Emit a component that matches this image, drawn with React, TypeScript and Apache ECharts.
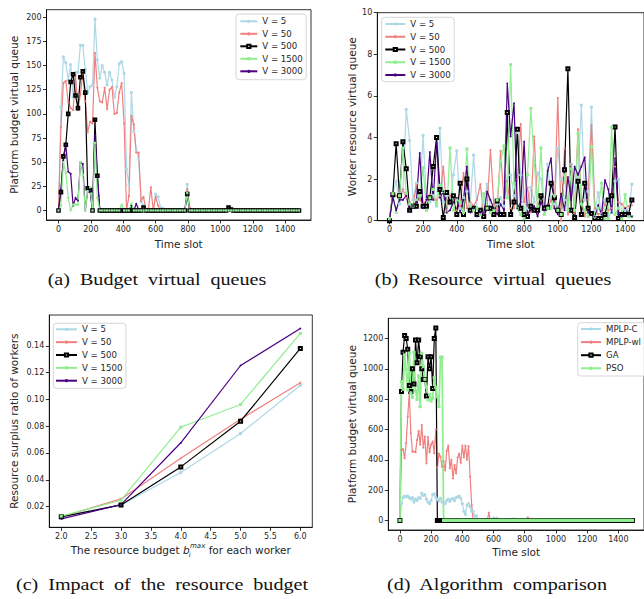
import React, { useEffect, useRef } from 'react';
import * as echarts from 'echarts';

// ---------- time slots ----------
const TA = [
  0, 15, 30, 45, 60, 75, 90, 105, 120, 135,
  150, 165, 180, 195, 210, 225, 240, 255, 270, 285,
  300, 315, 330, 345, 360, 375, 390, 405, 420, 435,
  450, 465, 480, 495, 510, 525, 540, 555, 570, 585,
  600, 615, 630, 645, 660, 675, 690, 705, 720, 735,
  750, 765, 780, 795, 810, 825, 840, 855, 870, 885,
  900, 915, 930, 945, 960, 975, 990, 1005, 1020, 1035,
  1050, 1065, 1080, 1095, 1110, 1125, 1140, 1155, 1170, 1185,
  1200, 1215, 1230, 1245, 1260, 1275, 1290, 1305, 1320, 1335,
  1350, 1365, 1380, 1395, 1410, 1425, 1440, 1455, 1470, 1485,
];
const TB = [
  0, 20, 40, 60, 80, 100, 120, 140, 160, 180,
  200, 220, 240, 260, 280, 300, 320, 340, 360, 380,
  400, 420, 440, 460, 480, 500, 520, 540, 560, 580,
  600, 620, 640, 660, 680, 700, 720, 740, 760, 780,
  800, 820, 840, 860, 880, 900, 920, 940, 960, 980,
  1000, 1020, 1040, 1060, 1080, 1100, 1120, 1140, 1160, 1180,
  1200, 1220, 1240, 1260, 1280, 1300, 1320, 1340, 1360, 1380,
  1400, 1420, 1440,
];
const TD = [
  0, 10, 20, 30, 40, 50, 60, 70, 80, 90,
  100, 110, 120, 130, 140, 150, 160, 170, 180, 190,
  200, 210, 220, 230, 240, 250, 260, 270, 280, 290,
  300, 310, 320, 330, 340, 350, 360, 370, 380, 390,
  400, 410, 420, 430, 440, 450, 460, 470, 480, 490,
  500, 510, 520, 530, 540, 550, 560, 570, 580, 590,
  600, 610, 620, 630, 640, 650, 660, 670, 680, 690,
  700, 710, 720, 730, 740, 750, 760, 770, 780, 790,
  800, 810, 820, 830, 840, 850, 860, 870, 880, 890,
  900, 910, 920, 930, 940, 950, 960, 970, 980, 990,
  1000, 1010, 1020, 1030, 1040, 1050, 1060, 1070, 1080, 1090,
  1100, 1110, 1120, 1130, 1140, 1150, 1160, 1170, 1180, 1190,
  1200, 1210, 1220, 1230, 1240, 1250, 1260, 1270, 1280, 1290,
  1300, 1310, 1320, 1330, 1340, 1350, 1360, 1370, 1380, 1390,
  1400, 1410, 1420, 1430, 1440, 1450, 1460, 1470, 1480, 1490,
];

// ---------- (a) budget virtual queues ----------
const A_V5 = [
  0, 107, 159, 153, 135, 151, 117, 143, 143, 171,
  171, 146, 122, 128, 130, 198, 156, 137, 150, 143,
  130, 143, 135, 117, 128, 152, 154, 142, 43, 27,
  122, 82, 63, 53, 9, 5, 0, 0, 0, 0,
  17, 14, 3, 2, 0, 0, 0, 0, 0, 0,
  0, 0, 0, 27, 0, 0, 0, 0, 0, 0,
  0, 0, 0, 0, 0, 0, 0, 0, 0, 0,
  0, 0, 0, 0, 0, 0, 0, 0, 0, 0,
  0, 0, 0, 0, 0, 0, 0, 0, 0, 0,
  0, 0, 0, 0, 0, 0, 0, 0, 0, 0,
];
const A_V50 = [
  0, 86, 132, 134, 112, 106, 104, 140, 104, 120,
  142, 113, 81, 92, 90, 163, 127, 113, 112, 127,
  105, 125, 128, 100, 101, 122, 132, 90, 0, 15,
  98, 89, 60, 60, 10, 14, 0, 0, 24, 0,
  14, 5, 0, 0, 0, 0, 0, 0, 0, 0,
  0, 0, 0, 22, 3, 0, 0, 0, 0, 0,
  0, 0, 0, 0, 0, 0, 0, 0, 0, 0,
  0, 0, 0, 0, 0, 0, 0, 0, 0, 0,
  0, 0, 0, 0, 0, 0, 0, 0, 0, 0,
  0, 0, 0, 0, 0, 0, 0, 0, 0, 0,
];
const A_V500 = [
  0, 19, 56, 68, 100, 133, 141, 119, 106, 138,
  144, 122, 23, 21, 0, 94, 36, 0, 0, 0,
  0, 0, 0, 0, 0, 0, 0, 0, 0, 0,
  0, 0, 0, 0, 0, 3, 0, 0, 0, 0,
  0, 0, 0, 0, 0, 0, 0, 0, 0, 0,
  0, 0, 0, 17, 0, 0, 0, 0, 0, 0,
  0, 0, 0, 0, 0, 0, 0, 0, 0, 0,
  3, 1, 0, 0, 0, 0, 0, 0, 0, 0,
  0, 0, 0, 0, 0, 0, 0, 0, 0, 0,
  0, 0, 0, 0, 0, 0, 0, 0, 0, 0,
];
const A_V1500 = [
  0, 5, 50, 39, 13, 0, 6, 6, 6, 50,
  37, 0, 20, 24, 0, 70, 13, 0, 0, 0,
  0, 0, 0, 0, 0, 0, 6, 0, 0, 0,
  7, 0, 0, 0, 0, 0, 0, 0, 0, 0,
  0, 0, 0, 0, 0, 0, 0, 0, 0, 0,
  0, 0, 0, 18, 0, 0, 0, 0, 0, 0,
  0, 0, 0, 0, 0, 0, 0, 0, 0, 0,
  0, 0, 0, 0, 0, 0, 0, 0, 0, 0,
  0, 0, 0, 0, 0, 0, 0, 0, 0, 0,
  0, 0, 0, 0, 0, 0, 0, 0, 0, 0,
];
const A_V3000 = [
  0, 22, 52, 68, 40, 38, 5, 13, 10, 50,
  48, 0, 20, 20, 0, 78, 35, 0, 0, 0,
  0, 0, 0, 0, 0, 0, 0, 0, 0, 0,
  5, 0, 7, 1, 0, 2, 0, 0, 0, 0,
  0, 0, 0, 0, 0, 0, 0, 0, 0, 0,
  0, 0, 0, 16, 0, 0, 0, 0, 0, 0,
  0, 0, 0, 0, 0, 0, 0, 0, 0, 0,
  0, 0, 0, 0, 0, 0, 0, 0, 0, 0,
  0, 0, 0, 0, 0, 0, 0, 0, 0, 0,
  0, 0, 0, 0, 0, 0, 0, 0, 0, 0,
];

// ---------- (b) resource virtual queues ----------
const B_V5 = [
  0.1, 1.3, 1.9, 0.8, 1.5, 5.35, 3.85, 1.0, 1.8, 1.2,
  4.1, 1.0, 0.9, 1.2, 0.7, 4.45, 0.9, 1.2, 0.8, 2.2,
  3.35, 0.6, 1.1, 1.4, 0.8, 3.15, 0.6, 0.4, 0.9, 1.75,
  0.6, 0.5, 0.8, 1.1, 0.7, 2.0, 2.2, 1.2, 4.25, 2.2,
  0.3, 0.6, 1.6, 0.9, 2.3, 2.0, 0.5, 2.7, 1.1, 0.8,
  3.5, 2.0, 1.0, 0.6, 2.7, 1.5, 2.1, 5.55, 1.0, 1.4,
  5.45, 0.5, 1.35, 0.3, 1.0, 0.2, 0.4, 1.9, 2.0, 0.3,
  0.5, 0.3, 1.75,
];
const B_V50 = [
  0.1, 1.3, 1.2, 1.1, 1.5, 1.1, 0.9, 0.7, 1.7, 1.0,
  0.8, 1.0, 1.25, 1.1, 1.0, 1.2, 2.6, 0.5, 1.2, 1.2,
  0.5, 0.7, 2.3, 0.6, 0.9, 0.7, 1.0, 1.75, 0.3, 0.6,
  3.4, 0.8, 0.5, 3.35, 1.0, 1.9, 0.6, 0.6, 2.0, 4.65,
  0.9, 1.6, 0.4, 4.05, 0.6, 1.2, 0.5, 0.6, 1.0, 0.6,
  5.9, 0.0, 3.45, 0.3, 2.7, 0.4, 4.4, 1.0, 0.2, 1.0,
  4.6, 0.6, 0.3, 0.4, 0.8, 0.5, 0.6, 2.6, 0.9, 0.8,
  0.6, 0.7, 0.75,
];
const B_V500 = [
  0, 1.25, 3.7, 1.2, 3.8, 2.5, 0.5, 0.7, 0.7, 1.4,
  0.7, 0.7, 1.1, 2.6, 4.0, 1.5, 0.15, 1.35, 0.9, 1.2,
  0.3, 1.8, 0.3, 2.0, 0.5, 0.6, 0.3, 0.5, 0.2, 0.6,
  0.6, 0.3, 0.95, 0.3, 0.3, 5.2, 0.3, 0.9, 4.4, 0.6,
  0.3, 0.2, 0.7, 0.5, 0.5, 1.2, 0.6, 0.65, 1.8, 1.1,
  0.5, 0.3, 2.45, 7.3, 0.5, 0.15, 1.9, 0.3, 1.8, 0.6,
  0.35, 0.1, 0.1, 0.1, 0.3, 1.0, 1.2, 4.5, 0.1, 0.3,
  0.3, 0.3, 1.0,
];
const B_V1500 = [
  0.1, 1.3, 0.4, 1.2, 3.5, 1.3, 0.8, 0.7, 1.0, 1.2,
  2.55, 0.5, 1.1, 1.5, 0.8, 1.7, 1.4, 0.4, 3.5, 0.5,
  1.0, 0.9, 0.4, 3.45, 0.7, 0.5, 0.6, 0.3, 1.3, 0.6,
  0.4, 0.5, 1.0, 2.85, 3.6, 1.1, 7.5, 1.8, 0.6, 0.3,
  0.1, 2.2, 5.4, 2.8, 0.7, 3.5, 0.3, 0.6, 0.6, 1.2,
  0.5, 0.3, 2.2, 0.5, 2.5, 0.5, 4.2, 0.8, 0.5, 0.2,
  3.55, 0.2, 0.6, 1.8, 0.1, 0.1, 4.5, 0.3, 0.6, 0.1,
  1.25, 0.2, 0.2,
];
const B_V3000 = [
  0, 1.15, 0.5, 1.0, 1.0, 1.2, 0.45, 0.7, 0.9, 3.25,
  0.6, 1.0, 3.3, 1.0, 3.75, 1.1, 1.4, 0.4, 0.5, 0.9,
  1.1, 0.4, 1.0, 2.6, 0.4, 0.6, 0.2, 0.4, 0.3, 1.4,
  1.0, 0.6, 0.3, 0.8, 0.5, 6.6, 4.05, 5.65, 0.6, 0.9,
  3.8, 0.3, 0.5, 0.7, 0.2, 0.9, 0.5, 2.4, 3.0, 0.6,
  0.3, 1.3, 0.5, 2.1, 1.0, 2.6, 2.2, 2.6, 3.05, 0.4,
  0.3, 0.2, 0.75, 0.3, 1.95, 1.5, 0.4, 3.0, 0.3, 0.2,
  0.6, 0.3, 0.2,
];

// ---------- (c) impact of the resource budget ----------
const C_BUDGET = [2, 3, 4, 5, 6];
const C_V5 = [0.0128, 0.0212, 0.0454, 0.0745, 0.1106];
const C_V50 = [0.0123, 0.0257, 0.0561, 0.0852, 0.1124];
const C_V500 = [0.0123, 0.0212, 0.0496, 0.0837, 0.138];
const C_V1500 = [0.0128, 0.0247, 0.0792, 0.0962, 0.1492];
const C_V3000 = [0.0108, 0.0214, 0.0676, 0.1253, 0.1529];

// ---------- (d) algorithm comparison ----------
const D_MPLPC = [
  0, 110, 150, 160, 155, 160, 150, 140, 150, 120,
  140, 130, 150, 145, 180, 165, 170, 140, 120, 110,
  130, 170, 175, 150, 140, 130, 145, 120, 115, 110,
  130, 140, 125, 140, 145, 130, 150, 155, 160, 145,
  110, 60, 40, 100, 110, 90, 60, 60, 30, 30,
  5, 0, 0, 0, 0, 0, 0, 0, 0, 0,
  15, 10, 15, 0, 0, 0, 0, 0, 0, 0,
  0, 0, 0, 10, 0, 0, 0, 0, 0, 0,
  0, 0, 0, 0, 0, 0, 0, 0, 0, 0,
  0, 0, 0, 0, 0, 0, 0, 0, 0, 0,
  0, 0, 0, 0, 0, 0, 0, 0, 0, 0,
  0, 0, 0, 0, 0, 0, 0, 0, 0, 0,
  0, 0, 0, 0, 0, 0, 0, 0, 0, 0,
  0, 0, 0, 0, 0, 0, 0, 0, 0, 0,
  0, 0, 0, 0, 0, 0, 0, 0, 0, 0,
];
const D_MPLPWL = [
  0, 465, 470, 410, 510, 685, 840, 575, 454, 454,
  450, 530, 590, 500, 630, 480, 553, 376, 550, 450,
  500, 520, 443, 600, 350, 440, 420, 354, 390, 330,
  460, 493, 343, 400, 277, 365, 310, 416, 440, 380,
  493, 416, 493, 400, 490, 288, 100, 0, 0, 0,
  0, 0, 0, 0, 0, 0, 0, 50, 0, 0,
  10, 0, 0, 0, 0, 0, 0, 0, 0, 0,
  0, 0, 0, 0, 0, 0, 0, 0, 0, 0,
  0, 0, 20, 0, 0, 0, 0, 0, 0, 0,
  0, 0, 0, 0, 0, 0, 0, 0, 0, 0,
  0, 0, 0, 0, 0, 0, 0, 0, 0, 0,
  0, 0, 0, 0, 0, 0, 0, 0, 0, 0,
  0, 0, 0, 0, 0, 0, 0, 0, 0, 0,
  0, 0, 0, 0, 0, 0, 0, 0, 0, 0,
  0, 0, 0, 0, 0, 0, 0, 0, 0, 0,
];
const D_GA = [
  0, 850, 1110, 1220, 1200, 1130, 890, 850, 1000, 900,
  1190, 1040, 1190, 1080, 1000, 930, 930, 820, 1080, 1000,
  1080, 870, 1200, 1270, 0, 0, 0, 0, 0, 0,
  0, 0, 0, 0, 0, 0, 0, 0, 0, 0,
  0, 0, 0, 0, 0, 0, 0, 0, 0, 0,
  0, 0, 0, 0, 0, 0, 0, 0, 0, 0,
  0, 0, 0, 0, 0, 0, 0, 0, 0, 0,
  0, 0, 0, 0, 0, 0, 0, 0, 0, 0,
  0, 0, 0, 0, 0, 0, 0, 0, 0, 0,
  0, 0, 0, 0, 0, 0, 0, 0, 0, 0,
  0, 0, 0, 0, 0, 0, 0, 0, 0, 0,
  0, 0, 0, 0, 0, 0, 0, 0, 0, 0,
  0, 0, 0, 0, 0, 0, 0, 0, 0, 0,
  0, 0, 0, 0, 0, 0, 0, 0, 0, 0,
  0, 0, 0, 0, 0, 0, 0, 0, 0, 0,
];
const D_PSO = [
  0, 916, 865, 1092, 997, 861, 1103, 840, 812, 1110,
  856, 799, 953, 751, 1103, 1015, 931, 880, 795, 830,
  788, 806, 942, 876, 817, 751, 1077, 1077, 0, 0,
  0, 0, 0, 0, 0, 0, 0, 0, 0, 0,
  0, 0, 0, 0, 0, 0, 0, 0, 0, 0,
  0, 0, 0, 0, 0, 0, 0, 0, 0, 0,
  0, 0, 0, 0, 0, 0, 0, 0, 0, 0,
  0, 0, 0, 0, 0, 0, 0, 0, 0, 0,
  0, 0, 0, 0, 0, 0, 0, 0, 0, 0,
  0, 0, 0, 0, 0, 0, 0, 0, 0, 0,
  0, 0, 0, 0, 0, 0, 0, 0, 0, 0,
  0, 0, 0, 0, 0, 0, 0, 0, 0, 0,
  0, 0, 0, 0, 0, 0, 0, 0, 0, 0,
  0, 0, 0, 0, 0, 0, 0, 0, 0, 0,
  0, 0, 0, 0, 0, 0, 0, 0, 0, 0,
];

// ---------- names & ticks ----------
const V_NAMES = ['V = 5', 'V = 50', 'V = 500', 'V = 1500', 'V = 3000'];
const D_NAMES = ['MPLP-C', 'MPLP-wl', 'GA', 'PSO'];
const TICKS_TIME = [0, 200, 400, 600, 800, 1000, 1200, 1400];
const TICKS_A_Y = [0, 25, 50, 75, 100, 125, 150, 175, 200];
const TICKS_B_Y = [0, 2, 4, 6, 8, 10];
const TICKS_C_X = [2.0, 2.5, 3.0, 3.5, 4.0, 4.5, 5.0, 5.5, 6.0];
const TICKS_C_Y = [0.02, 0.04, 0.06, 0.08, 0.1, 0.12, 0.14];
const TICKS_D_Y = [0, 200, 400, 600, 800, 1000, 1200];
const CAPTIONS = [
  '(a) Budget virtual queues',
  '(b) Resource virtual queues',
  '(c) Impact of the resource budget',
  '(d) Algorithm comparison',
];

const FONT = "'DejaVu Sans', Verdana, sans-serif";
const TXT = '#262626';

type St = { color: string; symbol: string; size: number; width?: number };
const STYLES: Record<string, St> = {
  'V = 5': { color: '#add8e6', symbol: 'circle', size: 3.4 },
  'V = 50': { color: '#f08080', symbol: 'circle', size: 2.2 },
  'V = 500': { color: '#000000', symbol: 'emptyRect', size: 3 },
  'V = 1500': { color: '#90ee90', symbol: 'rect', size: 3 },
  'V = 3000': { color: '#4b0082', symbol: 'circle', size: 1.8 },
  'MPLP-C': { color: '#add8e6', symbol: 'circle', size: 3.2 },
  'MPLP-wl': { color: '#f08080', symbol: 'circle', size: 2.2 },
  GA: { color: '#000000', symbol: 'emptyRect', size: 3 },
  PSO: { color: '#90ee90', symbol: 'rect', size: 3.2, width: 1.8 },
};

function mkSeries(name: string, gi: number, xs: number[], ys: number[], sizeOverride?: number) {
  const st = STYLES[name];
  const empty = st.symbol.indexOf('empty') === 0;
  return {
    type: 'line',
    name,
    xAxisIndex: gi,
    yAxisIndex: gi,
    data: xs.map((x, i) => [x, ys[i]]),
    symbol: st.symbol,
    symbolSize: sizeOverride ?? st.size,
    showSymbol: true,
    clip: true,
    lineStyle: { color: st.color, width: st.width ?? 1.2 },
    itemStyle: { color: st.color, borderColor: st.color, borderWidth: empty ? 0.9 : 0 },
    emphasis: { disabled: true },
    silent: true,
  };
}

function axis(gi: number, min: number, max: number, ticks: number[], fmt: (v: number) => string, name: any, nameGap: number, extraName?: any) {
  return {
    type: 'value',
    gridIndex: gi,
    min,
    max,
    name,
    nameLocation: 'middle',
    nameGap,
    nameTextStyle: { fontSize: 10.5, color: TXT, fontFamily: FONT, ...(extraName || {}) },
    axisLine: { show: true, onZero: false, lineStyle: { color: '#000', width: 0.8 } },
    axisTick: { show: true, inside: false, length: 3.5, lineStyle: { color: '#000', width: 0.8 }, customValues: ticks },
    axisLabel: { show: true, customValues: ticks, fontSize: 8, color: TXT, fontFamily: FONT, margin: 5, formatter: (v: number) => fmt(v) },
    splitLine: { show: false },
  };
}

function legend(data: string[], left: number, top: number, itemWidth: number, gap: number, padding: number[]) {
  return {
    data,
    orient: 'vertical',
    left,
    top,
    itemWidth,
    itemHeight: 4,
    itemGap: gap,
    padding,
    backgroundColor: 'rgba(255,255,255,0.85)',
    borderColor: '#cccccc',
    borderWidth: 0.8,
    borderRadius: 3,
    selectedMode: false,
    textStyle: { fontSize: 8.6, color: TXT, fontFamily: FONT, lineHeight: 10 },
  };
}

const str = (v: number) => String(v);

export default function App() {
  const ref = useRef<HTMLDivElement>(null);
  useEffect(() => {
    if (!ref.current) return;
    const chart = echarts.init(ref.current, undefined, { renderer: 'svg' });
    const gridBase = { show: true, borderColor: '#000', borderWidth: 0.8, backgroundColor: 'transparent' };
    const aVals: Record<string, number[]> = { 'V = 5': A_V5, 'V = 50': A_V50, 'V = 500': A_V500, 'V = 1500': A_V1500, 'V = 3000': A_V3000 };
    const bVals: Record<string, number[]> = { 'V = 5': B_V5, 'V = 50': B_V50, 'V = 500': B_V500, 'V = 1500': B_V1500, 'V = 3000': B_V3000 };
    const cVals: Record<string, number[]> = { 'V = 5': C_V5, 'V = 50': C_V50, 'V = 500': C_V500, 'V = 1500': C_V1500, 'V = 3000': C_V3000 };
    const dVals: Record<string, number[]> = { 'MPLP-C': D_MPLPC, 'MPLP-wl': D_MPLPWL, GA: D_GA, PSO: D_PSO };
    const aOrder = ['V = 5', 'V = 50', 'V = 500', 'V = 3000', 'V = 1500'];
    const aSizes: Record<string, number> = { 'V = 5': 3.2, 'V = 50': 2.2, 'V = 500': 2.6, 'V = 1500': 2.2, 'V = 3000': 1.8 };

    const option: any = {
      animation: false,
      backgroundColor: '#ffffff',
      grid: [
        { ...gridBase, left: 46.5, top: 9.7, width: 264.5, height: 210.3 },
        { ...gridBase, left: 377.3, top: 12.7, width: 274, height: 208 },
        { ...gridBase, left: 49.3, top: 315, width: 263, height: 212.3 },
        { ...gridBase, left: 388.3, top: 318.3, width: 266, height: 211.7 },
      ],
      xAxis: [
        axis(0, -74.25, 1559.25, TICKS_TIME, str, 'Time slot', 18),
        axis(1, -72, 1512, TICKS_TIME, str, 'Time slot', 17.5),
        axis(2, 1.8, 6.2, TICKS_C_X, (v) => v.toFixed(1),
          '{n|The resource budget }{b|b}{sub|i}{sup|max}{n| for each worker}', 15, {
            rich: {
              n: { fontSize: 10.5, color: TXT, fontFamily: FONT, lineHeight: 16 },
              b: { fontSize: 10.5, color: TXT, fontFamily: FONT, fontStyle: 'italic', lineHeight: 16 },
              sub: { fontSize: 7, color: TXT, fontFamily: FONT, fontStyle: 'italic', verticalAlign: 'bottom', lineHeight: 9, width: 0.5 },
              sup: { fontSize: 7, color: TXT, fontFamily: FONT, fontStyle: 'italic', verticalAlign: 'top', lineHeight: 9 },
            },
          }),
        axis(3, -74.5, 1564.5, TICKS_TIME, str, 'Time slot', 16.5),
      ],
      yAxis: [
        axis(0, -9.9, 207.9, TICKS_A_Y, str, 'Platform budget virtual queue', 27),
        axis(1, 0, 10, TICKS_B_Y, str, 'Worker resource virtual queue', 20),
        axis(2, 0.0045, 0.163, TICKS_C_Y, (v) => v.toFixed(2), 'Resource surplus ratio of workers', 30),
        axis(3, -63.5, 1333.5, TICKS_D_Y, str, 'Platform budget virtual queue', 31),
      ],
      legend: [
        legend(V_NAMES, 236, 14, 17, 2.5, [2.3, 3.5, 3.4, 3.3]),
        legend(V_NAMES, 381.7, 17.3, 20, 2.75, [1.7, 3.5, 1.7, 2.6]),
        legend(V_NAMES, 53.3, 323.3, 21, 2.85, [1, 3.5, 2.6, 1.7]),
        legend(D_NAMES, 577.7, 322.7, 20, 3.1, [1.3, 8, 2.7, 2.3]),
      ],
      series: [
        ...V_NAMES.map((n) => mkSeries(n, 1, TB, bVals[n])),
        ...aOrder.map((n) => mkSeries(n, 0, TA, aVals[n], aSizes[n])),
        ...V_NAMES.map((n) => mkSeries(n, 2, C_BUDGET, cVals[n])),
        ...D_NAMES.map((n) => mkSeries(n, 3, TD, dVals[n])),
      ],
    };
    chart.setOption(option);
    return () => chart.dispose();
  }, []);

  const capStyle = (cx: number, top: number): React.CSSProperties => ({
    position: 'absolute',
    left: cx - 200,
    top,
    width: 400,
    textAlign: 'center',
    fontFamily: "'Liberation Serif', 'Times New Roman', Times, serif",
    fontSize: 16.5,
    lineHeight: '17px',
    wordSpacing: '4px',
    transform: 'scaleX(1.22)',
    transformOrigin: '50% 50%',
    color: '#111',
    whiteSpace: 'nowrap',
  });

  return (
    <div style={{ position: 'fixed', left: 0, top: 0, width: 644, height: 599, background: '#fff', overflow: 'hidden' }}>
      <div ref={ref} style={{ position: 'absolute', left: 0, top: 0, width: 644, height: 599 }} />
      <div style={capStyle(157, 270.5)}>{CAPTIONS[0]}</div>
      <div style={capStyle(493, 270.5)}>{CAPTIONS[1]}</div>
      <div style={capStyle(161.5, 576)}>{CAPTIONS[2]}</div>
      <div style={capStyle(496.5, 576)}>{CAPTIONS[3]}</div>
    </div>
  );
}
